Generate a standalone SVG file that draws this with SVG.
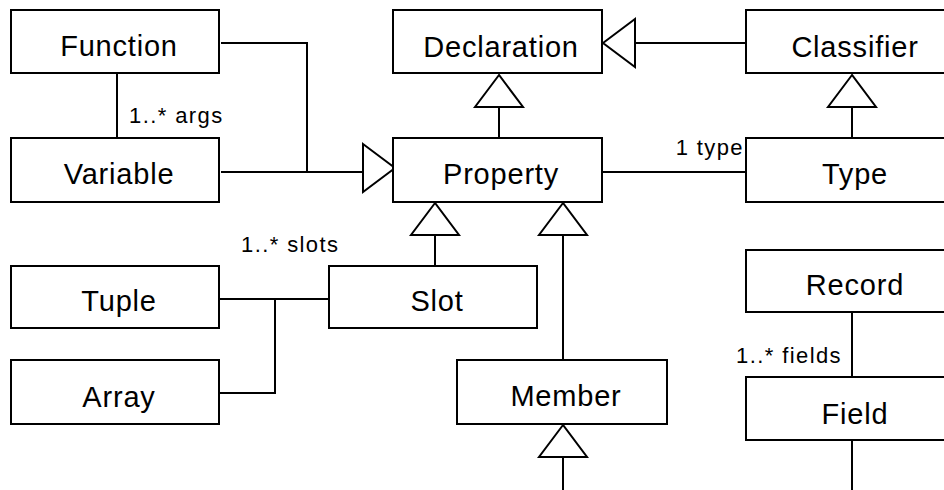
<svg xmlns="http://www.w3.org/2000/svg" width="944" height="490" viewBox="0 0 944 490">
<style>
text{font-family:"Liberation Sans",Arimo,Arial,Helvetica,sans-serif;fill:#000}
.box{fill:#fff;stroke:#000;stroke-width:2}
.nt{font-size:29px;letter-spacing:0.8px;text-anchor:middle}
.ln{fill:none;stroke:#000;stroke-width:2}
.tri{fill:#fff;stroke:#000;stroke-width:2;stroke-linejoin:miter}
.lb{font-size:22px;letter-spacing:1.4px}
</style>
<rect width="944" height="490" fill="#fff"/>
<g id="connectors">
<polyline class="ln" points="221,43 307,43 307,172"/>
<line class="ln" x1="221" y1="172" x2="363" y2="172"/>
<polygon class="tri" points="363,144 395,168 363,192"/>
<line class="ln" x1="117" y1="73" x2="117" y2="138"/>
<line class="ln" x1="635" y1="43" x2="746" y2="43"/>
<polygon class="tri" points="603,43 635,19 635,67"/>
<line class="ln" x1="499" y1="107" x2="499" y2="138"/>
<polygon class="tri" points="499,75 475,107 523,107"/>
<line class="ln" x1="852" y1="107" x2="852" y2="138"/>
<polygon class="tri" points="852,75 828,107 876,107"/>
<line class="ln" x1="603" y1="172" x2="746" y2="172"/>
<line class="ln" x1="435" y1="235" x2="435" y2="266"/>
<polygon class="tri" points="435,203 411,235 459,235"/>
<line class="ln" x1="563" y1="235" x2="563" y2="360"/>
<polygon class="tri" points="563,203 539,235 587,235"/>
<line class="ln" x1="563" y1="457" x2="563" y2="490"/>
<polygon class="tri" points="563,425 539,457 587,457"/>
<line class="ln" x1="220" y1="299" x2="329" y2="299"/>
<polyline class="ln" points="275,299 275,393 220,393"/>
<line class="ln" x1="852" y1="312" x2="852" y2="377"/>
<line class="ln" x1="852" y1="440" x2="852" y2="490"/>
<text class="lb" x="129" y="123">1..* args</text>
<text class="lb" x="744" y="155" text-anchor="end">1 type</text>
<text class="lb" x="241" y="252">1..* slots</text>
<text class="lb" x="842" y="363" text-anchor="end">1..* fields</text>
</g>
<g id="Function"><rect class="box" x="11" y="10" width="208" height="63"/><text class="nt" x="119" y="56">Function</text></g>
<g id="Variable"><rect class="box" x="11" y="138" width="208" height="64"/><text class="nt" x="119" y="184">Variable</text></g>
<g id="Declaration"><rect class="box" x="393" y="10" width="209" height="63"/><text class="nt" x="501" y="57">Declaration</text></g>
<g id="Property"><rect class="box" x="393" y="138" width="209" height="64"/><text class="nt" x="501" y="184">Property</text></g>
<g id="Classifier"><rect class="box" x="746" y="10" width="210" height="63"/><text class="nt" x="855" y="57">Classifier</text></g>
<g id="Type"><rect class="box" x="746" y="138" width="210" height="64"/><text class="nt" x="855" y="184">Type</text></g>
<g id="Tuple"><rect class="box" x="11" y="266" width="208" height="62"/><text class="nt" x="119" y="311">Tuple</text></g>
<g id="Array"><rect class="box" x="11" y="360" width="208" height="64"/><text class="nt" x="119" y="407">Array</text></g>
<g id="Slot"><rect class="box" x="329" y="266" width="208" height="62"/><text class="nt" x="437" y="311">Slot</text></g>
<g id="Member"><rect class="box" x="457" y="360" width="210" height="64"/><text class="nt" x="566" y="406">Member</text></g>
<g id="Record"><rect class="box" x="746" y="250" width="210" height="62"/><text class="nt" x="855" y="295">Record</text></g>
<g id="Field"><rect class="box" x="746" y="377" width="210" height="63"/><text class="nt" x="855" y="424">Field</text></g>
</svg>
